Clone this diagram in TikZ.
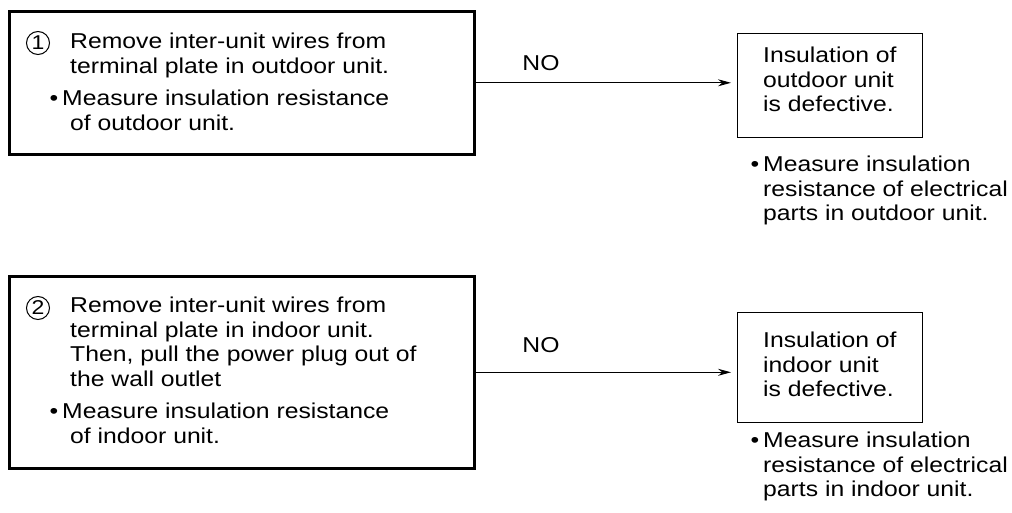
\documentclass[tikz,border=0pt]{standalone}
\usepackage{fontspec}
\setmainfont[FakeStretch=1.15]{Liberation Sans}
\usetikzlibrary{positioning,arrows.meta}

\newcommand{\bul}{\llap{\textbullet\hspace{4pt}}}

\begin{document}
\begin{tikzpicture}[x=1pt, y=-1pt,
    stepbox/.style={draw, line width=2.6pt, anchor=north west, minimum width=465pt, inner sep=0pt},
    resbox/.style={draw, line width=1pt, anchor=north west, minimum width=185pt, inner sep=0pt},
    txt/.style={anchor=north west, align=left, inner sep=0pt, font=\fontsize{21.5}{24.5}\selectfont},
    numc/.style={draw, circle, line width=1pt, minimum size=23pt, inner sep=0pt, font=\fontsize{20}{20}\selectfont},
    arr/.style={-{Stealth[length=13pt, width=7pt]}, line width=1pt, shorten >=6pt},
    lbl/.style={font=\fontsize{21.5}{24.5}\selectfont, inner sep=0pt}
  ]
  \useasboundingbox (0,0) rectangle (1012,513);

  % step boxes
  \node[stepbox, minimum height=143pt] (s1) at (8,10) {};
  \node[stepbox, minimum height=192pt] (s2) at (8,275) {};
  \node[numc] (c1) at (38,43) {1};
  \node[numc] (c2) at (38,308) {2};
  \node[txt] (t1) at (70,33) {Remove inter-unit wires from\\
    terminal plate in outdoor unit.\\[8pt]
    \hspace*{-8pt}\bul Measure insulation resistance\\
    of outdoor unit.};
  \node[txt] (t2) at (70,297) {Remove inter-unit wires from\\
    terminal plate in indoor unit.\\
    Then, pull the power plug out of\\
    the wall outlet\\[8pt]
    \hspace*{-8pt}\bul Measure insulation resistance\\
    of indoor unit.};

  % result boxes
  \node[resbox, minimum height=104pt] (r1) at (737,33) {};
  \node[resbox, minimum height=110pt] (r2) at (737,312) {};
  \node[txt] (rt1) at (763,47) {Insulation of\\outdoor unit\\is defective.};
  \node[txt] (rt2) at (763,332) {Insulation of\\indoor unit\\is defective.};
  \node[txt] (n1) at (763,156) {\bul Measure insulation\\resistance of electrical\\parts in outdoor unit.};
  \node[txt] (n2) at (763,432) {\bul Measure insulation\\resistance of electrical\\parts in indoor unit.};

  % connectors
  \draw[arr] (s1.east) -- node[lbl, pos=0.25, above=12pt] {NO} (s1.east -| r1.west);
  \draw[arr] (s2.east) -- node[lbl, pos=0.25, above=19pt] {NO} (s2.east -| r2.west);
\end{tikzpicture}
\end{document}
